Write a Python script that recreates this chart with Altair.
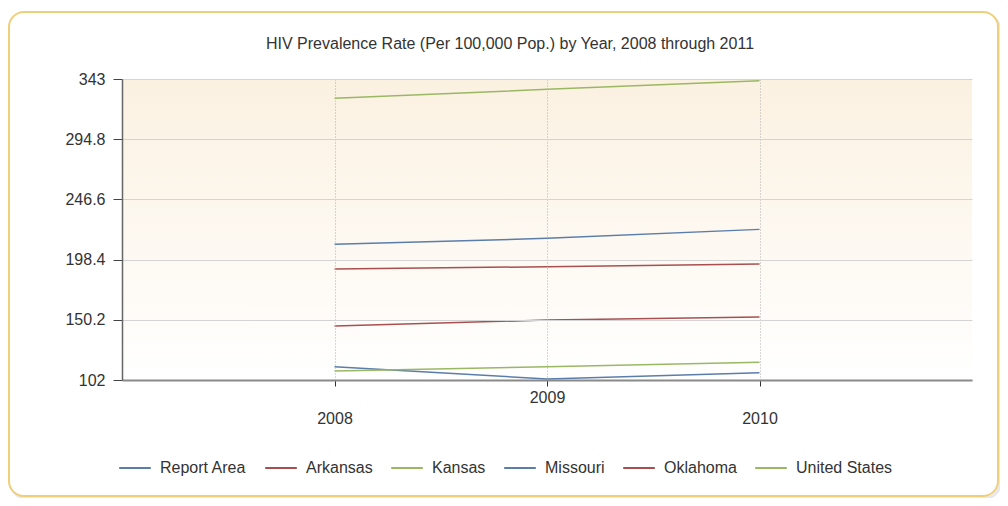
import altair as alt
import pandas as pd

years = [2008, 2009, 2010]
series = ["Report Area", "Arkansas", "Kansas", "Missouri", "Oklahoma", "United States"]
report_area = [112.6, 102.8, 107.9]
arkansas = [190.9, 192.7, 194.9]
kansas = [109.2, 112.6, 116.2]
missouri = [210.6, 215.4, 222.6]
oklahoma = [145.2, 150.0, 152.4]
united_states = [327.5, 334.7, 341.6]
colors = ["#5A7DAA", "#A94F4F", "#9AB863", "#5A7DAA", "#A94F4F", "#9AB863"]
y_ticks = [102, 150.2, 198.4, 246.6, 294.8, 343]
x_ticks = [2008, 2009, 2010]
title_text = "HIV Prevalence Rate (Per 100,000 Pop.) by Year, 2008 through 2011"

rows = []
for name, vals in zip(series, [report_area, arkansas, kansas, missouri, oklahoma, united_states]):
    for yr, v in zip(years, vals):
        rows.append({"Year": yr, "Series": name, "Rate": v})
df = pd.DataFrame(rows)

W, H = 850, 301
FONT = "Liberation Sans"
FS = 16

border_shadow = alt.Chart(alt.Data(values=[{}])).mark_rect(
    fill="transparent", stroke="#D8D8D8", strokeWidth=3, cornerRadius=15, strokeOpacity=0.6
).encode(x=alt.value(-111), x2=alt.value(878), y=alt.value(-64), y2=alt.value(419))

border = alt.Chart(alt.Data(values=[{}])).mark_rect(
    fill="white", stroke="#EFCF7A", strokeWidth=2, cornerRadius=15
).encode(x=alt.value(-113), x2=alt.value(876), y=alt.value(-67), y2=alt.value(417))

bg = alt.Chart(alt.Data(values=[{}])).mark_rect(
    fill=alt.LinearGradient(
        gradient="linear", x1=0, x2=0, y1=0, y2=1,
        stops=[alt.GradientStop(offset=0, color="#FBF1E1"),
               alt.GradientStop(offset=1, color="#FFFFFF")]
    )
).encode(x=alt.value(0), x2=alt.value(W), y=alt.value(0), y2=alt.value(H))

title = alt.Chart(alt.Data(values=[{}])).mark_text(
    font=FONT, fontSize=FS, color="#333333", align="center", baseline="middle"
).encode(x=alt.value(388), y=alt.value(-35), text=alt.value(title_text))

lines = alt.Chart(df).mark_line(strokeWidth=1.5).encode(
    x=alt.X("Year:Q", scale=alt.Scale(domain=[2007, 2011], nice=False, zero=False),
            axis=alt.Axis(values=x_ticks, format="d", title=None, grid=True,
                          gridDash=[1, 2], gridColor="#B0B0B0", gridWidth=1,
                          domainColor="#8A8A8A", domainWidth=2, tickColor="#333333",
                          tickSize=6, labelFontSize=FS, labelFont=FONT, labelColor="#333333",
                          labelPadding={"condition": {"test": "datum.value == 2009", "value": 3}, "value": 24},
                          zindex=1)),
    y=alt.Y("Rate:Q", scale=alt.Scale(domain=[102, 343], nice=False, zero=False),
            axis=alt.Axis(values=y_ticks, title=None, grid=True, gridColor="#D4D4D4", gridWidth=1,
                          domainColor="#666666", domainWidth=1.5, tickColor="#444444", tickSize=9,
                          labelFontSize=FS, labelFont=FONT, labelColor="#333333", labelPadding=8,
                          labelExpr="datum.value", zindex=1)),
    color=alt.Color("Series:N", sort=series, scale=alt.Scale(domain=series, range=colors),
                    legend=alt.Legend(orient="none", legendX=-4, legendY=372, direction="horizontal",
                                      title=None, symbolType="stroke", symbolSize=1000,
                                      symbolStrokeWidth=2, labelFont=FONT, labelFontSize=FS,
                                      labelColor="#333333", labelOffset=8, columnPadding=14,
                                      gridAlign="none")),
    detail="Series:N",
)

chart = alt.layer(border_shadow, border, bg, title, lines).properties(
    width=W, height=H,
    autosize=alt.AutoSizeParams(type="none"),
    padding={"left": 114, "top": 71, "right": 28, "bottom": 118},
).configure_view(stroke=None)

chart.save("out.html", embed_options={"renderer": "svg", "actions": False})
